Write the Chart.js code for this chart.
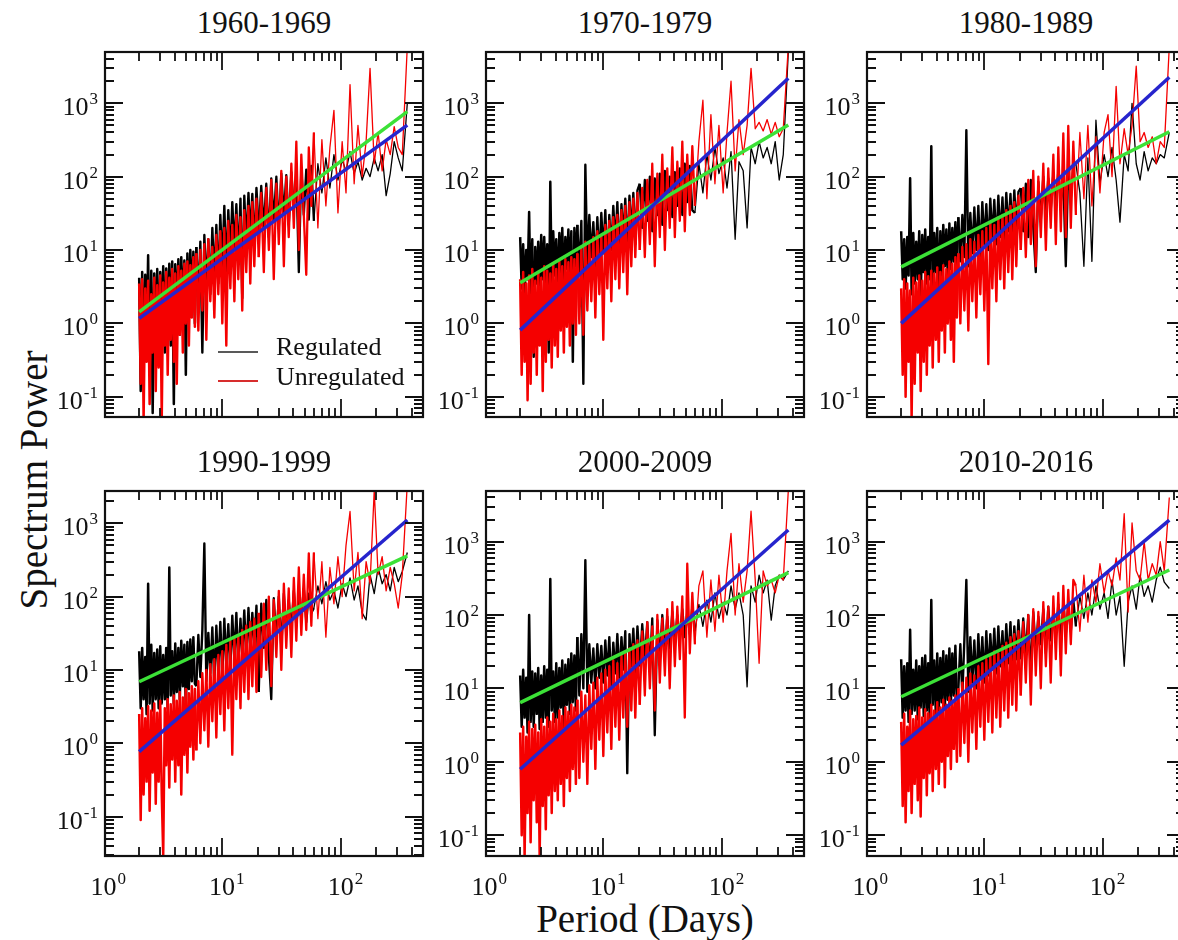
<!DOCTYPE html>
<html>
<head>
<meta charset="utf-8">
<title>Spectrum power by decade</title>
<script src="https://cdn.jsdelivr.net/npm/chart.js@4.4.1/dist/chart.umd.min.js"></script>
<style>
  body { margin: 0; width: 1178px; height: 940px; overflow: hidden; background: #fff; position: relative;
         font-family: 'Liberation Serif', 'Times New Roman', serif; color: #111; }
  canvas { position: absolute; }
  .panel-title { position: absolute; width: 318px; text-align: center; font-size: 31px; line-height: 31px; }
  #yTitle { position: absolute; left: 33px; top: 480px; transform: translate(-50%, -50%) rotate(-90deg);
            font-size: 39px; line-height: 39px; white-space: nowrap; }
  #xTitle { position: absolute; left: 645px; top: 899px; transform: translateX(-50%);
            font-size: 39px; line-height: 39px; white-space: nowrap; }
</style>
</head>
<body>
<div id="yTitle">Spectrum Power</div>
<div id="xTitle">Period (Days)</div>
<canvas id="p0"></canvas>
<canvas id="p1"></canvas>
<canvas id="p2"></canvas>
<canvas id="p3"></canvas>
<canvas id="p4"></canvas>
<canvas id="p5"></canvas>
<script>
// periods (days) shared by every spectrum
const periods = [
  2.00, 2.06, 2.12, 2.18, 2.25, 2.31, 2.38, 2.45, 2.53, 2.60, 2.68, 2.76, 2.84, 2.92, 3.01, 3.10, 3.19, 3.29, 3.38,
  3.48, 3.59, 3.69, 3.80, 3.92, 4.03, 4.15, 4.28, 4.40, 4.53, 4.67, 4.81, 4.95, 5.10, 5.25, 5.40, 5.56, 5.73, 5.90,
  6.07, 6.31, 6.56, 6.82, 7.09, 7.37, 7.66, 7.96, 8.28, 8.61, 8.95, 9.30, 9.67, 10.05, 10.45, 10.86, 11.29, 11.74,
  12.2, 12.7, 13.2, 13.7, 14.3, 14.8, 15.4, 16.0, 16.7, 17.3, 18.0, 18.7, 19.5,
  20.4, 21.4, 22.5, 23.6, 24.8, 26.0, 27.3, 28.7, 30.1, 31.6, 33.2, 34.8, 36.5, 38.4, 40.3, 42.3, 44.4, 46.6, 48.9,
  51.3, 53.9, 56.6,
  59.5, 64.3, 69.5, 75.1, 81.2, 87.8, 94.9, 103, 111, 120, 130, 140, 152, 164, 177, 192, 207, 224, 242, 262, 283,
  306, 331, 365
];

// 1960-1969
const reg1960s = [
  4.2, 0.12, 5.0, 0.35, 4.6, 0.5, 8.5, 0.2, 5.2, 0.06, 4.8, 0.6, 5.5, 0.3, 5.0, 0.9, 6.0, 0.4, 5.6, 1.0,
  6.5, 0.5, 7.0, 0.08, 6.4, 1.2, 7.5, 0.7, 8.0, 1.5, 7.2, 0.2, 9.0, 1.3, 10, 2.0, 9.5, 1.0,
  11, 2.2, 13, 0.4, 16, 3.0, 14, 2.5, 20, 4.0, 22, 3.5, 30, 6, 40, 5, 35, 8, 45, 10, 42, 7, 50, 2.2, 55, 12,
  60, 15, 58, 10, 70,
  18, 75, 20, 80, 15, 95, 25, 100, 20, 110, 30, 105, 22, 115, 35, 120, 5, 130, 30, 125, 26, 140,
  25, 150, 60, 180, 70, 200, 90, 170, 120, 220, 110, 160, 90, 130, 100, 180, 120, 200, 55, 110, 300, 180, 120, 1000
];
const unreg1960s = [
  3.5, 0.15, 4.0, 0.05, 3.0, 0.3, 3.8, 0.08, 2.5, 0.4, 4.2, 0.12, 3.3, 0.25, 4.5, 0.05, 3.6, 0.5, 5.0, 0.2,
  4.2, 0.6, 5.5, 0.3, 4.8, 0.15, 6.0, 0.7, 5.2, 0.4, 6.5, 1.0, 7.0, 0.5, 6.2, 1.2, 8.0, 0.9,
  9, 0.8, 10, 1.5, 12, 0.6, 14, 2.0, 11, 1.2, 16, 2.5, 18, 1.0, 20, 0.5, 25, 3.0, 22, 2.0, 30, 4.0, 28, 1.5,
  35, 5.0, 40, 3.5, 45, 6.0, 50,
  8, 60, 5, 70, 10, 90, 4, 80, 12, 120, 6, 100, 15, 150, 20, 300, 10, 200, 30, 4.6, 250, 40,
  400, 20, 320, 40, 250, 800, 32, 300, 60, 1800, 80, 500, 100, 300, 3000, 150, 400, 120, 320, 200, 480, 250, 200, 6000
];

// 1970-1979
const reg1970s = [
  15, 3.0, 12, 2.5, 10, 4.0, 33, 2.0, 14, 0.35, 11, 3.5, 13, 2.8, 16, 4.0, 15, 3.0, 12, 0.4,
  85, 3.5, 18, 4.5, 14, 2.5, 17, 5.0, 20, 3.0, 15, 5.5, 19, 4.0, 18, 0.3, 20, 6.0,
  22, 5, 25, 0.15, 145, 6, 30, 8, 24, 6, 28, 7, 32, 9, 35, 5, 30, 10, 40, 12, 45, 8, 42, 14, 50, 10,
  55, 15, 60, 12, 65,
  80, 20, 90, 25, 100, 18, 95, 30, 110, 22, 120, 35, 100, 28, 115, 40, 130, 30, 150, 45, 140, 35,
  32, 150, 60, 200, 90, 250, 110, 180, 70, 220, 14, 160, 120, 20, 250, 150, 300, 180, 250, 150, 300, 90, 200, 5000
];
const unreg1970s = [
  4.0, 0.2, 5.0, 0.3, 3.5, 0.09, 4.5, 0.15, 5.5, 0.4, 3.8, 0.2, 5.0, 0.5, 4.2, 0.12, 6.0, 0.3, 5.2, 0.6,
  4.8, 0.25, 6.5, 0.5, 5.5, 0.35, 7.0, 0.8, 6.0, 0.4, 7.5, 0.9, 6.8, 0.5, 8.0, 1.0, 7.5, 0.7,
  9, 1.0, 11, 0.7, 13, 1.5, 12, 2.0, 15, 1.2, 18, 2.5, 16, 0.6, 22, 3.0, 25, 2.0, 28, 4.0, 30, 3.0,
  35, 5.0, 40, 2.5, 45, 6.0, 50, 8.0, 60,
  10, 70, 8, 90, 12, 150, 6, 110, 15, 200, 10, 130, 20, 250, 15, 160, 25, 300, 18, 200, 30, 260,
  40, 300, 1100, 50, 700, 80, 500, 60, 400, 2000, 120, 600, 200, 500, 3000, 450, 550, 420, 600, 380, 550, 350, 450, 6000
];

// 1980-1989
const reg1980s = [
  18, 4.0, 14, 3.0, 15, 4.5, 95, 2.5, 17, 3.5, 13, 4.0, 18, 2.0, 16, 5.0, 19, 3.5, 15, 4.0,
  260, 3.0, 17, 5.0, 20, 2.0, 18, 4.5, 22, 6.0, 19, 4.0, 23, 5.5, 20, 7.0, 24, 6.0,
  28, 7, 30, 8, 430, 6, 32, 9, 38, 10, 40, 8, 45, 12, 42, 10, 50, 14, 48, 12, 55, 15, 52, 13, 60, 18,
  58, 16, 65, 20, 62,
  70, 18, 80, 15, 90, 20, 5, 85, 25, 100, 30, 95, 35, 110, 40, 120, 45, 100, 6, 130, 50, 140,
  150, 60, 6, 180, 7, 590, 80, 200, 100, 250, 90, 24, 200, 120, 1000, 150, 90, 220, 120, 180, 150, 200, 180, 400
];
const unreg1980s = [
  3.0, 0.2, 4.0, 0.1, 3.5, 0.3, 2.8, 0.05, 4.2, 0.15, 3.6, 0.4, 4.5, 0.12, 3.8, 0.3, 5.0, 0.2, 4.4, 0.5,
  5.2, 0.25, 4.8, 0.6, 5.8, 0.3, 5.0, 0.8, 6.2, 0.4, 5.5, 1.0, 7.0, 0.6, 6.5, 0.3, 8.0, 1.2,
  9, 1.0, 11, 1.5, 12, 0.8, 14, 2.0, 13, 1.2, 16, 2.5, 18, 1.5, 20, 0.28, 24, 3.0, 22, 2.0, 28, 4.0, 30, 3.0,
  35, 5.0, 40, 4.0, 45, 6.0, 55,
  10, 70, 8, 90, 12, 120, 6, 100, 15, 150, 10, 130, 20, 200, 12, 250, 18, 390, 15, 490, 20, 300,
  30, 400, 50, 500, 40, 350, 60, 400, 700, 100, 1700, 150, 450, 200, 500, 3200, 300, 400, 250, 350, 150, 300, 250, 6000
];

// 1990-1999
const reg1990s = [
  18, 3.0, 20, 4.0, 15, 2.5, 150, 3.5, 22, 2.8, 17, 4.0, 19, 3.0, 21, 3.5, 16, 4.0, 20, 3.0,
  250, 4.5, 18, 3.5, 23, 5.0, 20, 4.0, 25, 6.0, 22, 3.0, 24, 5.5, 26, 7.0, 28, 6.5,
  6, 30, 8, 35, 530, 7, 32, 9, 38, 6, 40, 10, 45, 8, 50, 12, 42, 10, 55, 14, 60, 12, 50, 16, 65, 15,
  70, 18, 60, 20, 75,
  5, 80, 20, 90, 15, 4, 95, 25, 100, 20, 110, 30, 90, 35, 120, 40, 100, 50, 130, 45, 110, 60,
  70, 140, 80, 160, 90, 120, 70, 150, 100, 180, 90, 140, 60, 48, 200, 110, 250, 150, 200, 120, 250, 160, 220, 400
];
const unreg1990s = [
  2.5, 0.09, 3.0, 0.2, 2.2, 0.3, 3.2, 0.12, 2.8, 0.4, 3.5, 0.15, 2.6, 0.3, 3.8, 0.2, 0.03, 3.0, 0.5, 4.0,
  0.25, 3.4, 0.6, 4.5, 0.3, 3.8, 0.5, 5.0, 0.2, 4.2, 0.7, 5.5, 0.4, 4.8, 0.9, 6.0, 0.6, 5.5,
  0.8, 7, 1.0, 9, 1.5, 10, 0.9, 12, 2.0, 14, 1.2, 16, 2.5, 18, 1.5, 22, 3.0, 25, 0.7, 28, 4.0, 30, 3.0, 35,
  5.0, 40, 4.0, 45, 6.0, 50, 5.0,
  60, 8, 80, 10, 100, 6, 90, 15, 120, 10, 150, 20, 130, 15, 180, 25, 250, 30, 200, 35, 390, 40,
  400, 50, 300, 28, 250, 80, 350, 100, 500, 1450, 120, 400, 50, 300, 150, 2800, 200, 350, 120, 250, 150, 70, 200, 3500
];

// 2000-2009
const reg2000s = [
  15, 3.0, 18, 4.0, 14, 2.5, 100, 3.5, 17, 3.0, 16, 4.5, 19, 2.8, 15, 3.5, 20, 4.0, 18, 3.0,
  310, 5.0, 17, 3.5, 22, 4.0, 19, 5.5, 24, 3.0, 21, 6.0, 25, 4.5, 30, 6.5, 28, 5.0,
  50, 8, 55, 10, 560, 9, 40, 12, 35, 10, 40, 14, 38, 12, 45, 15, 50, 10, 42, 16, 55, 14, 50, 18, 60, 0.7,
  55, 20, 65, 16, 70,
  20, 75, 25, 80, 18, 90, 2.3, 85, 25, 100, 30, 95, 35, 110, 40, 100, 45, 120, 50, 110, 55, 130,
  60, 140, 70, 160, 80, 200, 90, 150, 100, 250, 120, 200, 100, 10.5, 250, 150, 350, 200, 300, 85, 250, 350, 300, 400
];
const unreg2000s = [
  2.5, 0.1, 3.0, 0.05, 2.2, 0.2, 3.5, 0.08, 2.8, 0.3, 3.2, 0.15, 2.5, 0.05, 3.8, 0.25, 3.0, 0.12, 4.0, 0.35,
  3.5, 0.2, 4.5, 0.4, 3.8, 0.3, 5.0, 0.5, 4.2, 0.25, 5.5, 0.6, 4.8, 0.4, 6.0, 0.8, 5.5, 0.5,
  7, 0.6, 9, 1.0, 8, 0.5, 11, 1.5, 12, 0.8, 14, 2.0, 16, 1.2, 18, 2.5, 20, 1.5, 24, 3.0, 22, 2.0, 28, 4.0,
  30, 3.0, 35, 5.0, 40, 4.0, 45,
  6, 60, 8, 80, 10, 70, 5, 100, 12, 90, 15, 120, 10, 150, 20, 130, 25, 180, 4, 500, 30, 200,
  40, 250, 400, 50, 300, 60, 350, 80, 400, 1300, 100, 500, 150, 400, 2600, 300, 22, 400, 250, 300, 200, 350, 300, 5000
];

// 2010-2016
const reg2010s = [
  25, 4.0, 20, 5.0, 22, 3.5, 63, 4.5, 18, 5.0, 24, 3.8, 20, 5.5, 26, 4.2, 28, 5.0, 22, 4.0,
  160, 6.0, 24, 4.5, 30, 5.0, 26, 6.5, 32, 5.5, 28, 7.0, 35, 6.0, 30, 8.0, 38, 7.0,
  10, 40, 8, 45, 300, 9, 50, 12, 45, 10, 55, 14, 50, 12, 60, 15, 55, 18, 65, 16, 70, 20, 60, 18, 75, 22,
  80, 20, 70, 25, 85,
  25, 90, 30, 100, 15, 110, 35, 95, 40, 120, 30, 130, 45, 110, 50, 140, 40, 150, 55, 130, 60, 160,
  70, 180, 90, 200, 100, 250, 120, 200, 90, 300, 100, 180, 20, 150, 250, 120, 350, 180, 250, 150, 300, 450, 280, 230
];
const unreg2010s = [
  3.5, 0.25, 4.5, 0.15, 3.0, 0.4, 5.0, 0.2, 3.8, 0.5, 4.2, 0.3, 5.5, 0.18, 4.0, 0.6, 5.2, 0.35, 4.6, 0.7,
  6.0, 0.4, 5.0, 0.8, 6.5, 0.5, 5.5, 1.0, 7.0, 0.45, 6.0, 1.2, 7.5, 0.8, 6.8, 1.5, 8.0, 1.0,
  10, 1.2, 12, 1.8, 14, 1.0, 16, 2.5, 15, 1.5, 20, 3.0, 22, 2.0, 25, 3.5, 28, 2.5, 32, 4.0, 30, 3.0,
  38, 5.0, 42, 4.0, 50, 6.0, 55, 5.0, 60,
  8, 80, 12, 100, 6, 120, 15, 110, 10, 150, 20, 130, 12, 180, 25, 200, 15, 250, 30, 220, 40, 300,
  250, 60, 350, 80, 300, 150, 500, 200, 400, 250, 600, 300, 2400, 110, 1800, 400, 300, 1000, 300, 500, 350, 1000, 400, 4000
];

// power-law fits, evaluated at the ends of the period range
const fitPeriods = [2, 365];
const regFit1960s = [1.44, 770],  unregFit1960s = [1.17, 505];
const regFit1970s = [3.58, 505],  unregFit1970s = [0.81, 2190];
const regFit1980s = [5.9, 410],   unregFit1980s = [1.0, 2260];
const regFit1990s = [6.9, 359],   unregFit1990s = [0.77, 1110];
const regFit2000s = [6.4, 378],   unregFit2000s = [0.79, 1440];
const regFit2010s = [7.7, 411],   unregFit2010s = [1.69, 1970];

const decades = ['1960-1969', '1970-1979', '1980-1989', '1990-1999', '2000-2009', '2010-2016'];

// axis ranges and tick marks
const xRange = [1.03, 495];
const yRanges = [[0.053, 5000], [0.053, 5000], [0.053, 5000], [0.029, 2760], [0.052, 4900], [0.052, 4900]];
const xMajor = [1, 10, 100];
const xExponents = ['0', '1', '2'];
const xMinor = [2, 3, 4, 5, 6, 7, 8, 9, 20, 30, 40, 50, 60, 70, 80, 90, 200, 300, 400];
const yMajor = [0.1, 1, 10, 100, 1000];
const yExponents = ['-1', '0', '1', '2', '3'];
const yMinor = [0.03, 0.04, 0.05, 0.06, 0.07, 0.08, 0.09, 0.2, 0.3, 0.4, 0.5, 0.6, 0.7, 0.8, 0.9,
  2, 3, 4, 5, 6, 7, 8, 9, 20, 30, 40, 50, 60, 70, 80, 90, 200, 300, 400, 500, 600, 700, 800, 900,
  2000, 3000, 4000];

const legendLabels = ['Regulated', 'Unregulated'];

const regSeries = [reg1960s, reg1970s, reg1980s, reg1990s, reg2000s, reg2010s];
const unregSeries = [unreg1960s, unreg1970s, unreg1980s, unreg1990s, unreg2000s, unreg2010s];
const regFits = [regFit1960s, regFit1970s, regFit1980s, regFit1990s, regFit2000s, regFit2010s];
const unregFits = [unregFit1960s, unregFit1970s, unregFit1980s, unregFit1990s, unregFit2000s, unregFit2010s];

const BLACK = '#000', RED = 'rgb(245,0,0)', GREEN = 'rgb(60,225,55)', BLUE = 'rgb(38,36,205)';
const SERIF = '"Liberation Serif", "Times New Roman", serif';

const toPoints = (xs, ys) => xs.map((x, i) => ({ x, y: ys[i] }));

// the spectra are packed tightly at short periods, so strokes there are drawn wider
function noiseWidth(c) {
  const p = periods[c.p0DataIndex];
  if (p < 6) return 2.5;
  if (p < 20) return 2.4;
  if (p < 58) return 2.3;
  return 1.3;
}

function drawPower(ctx, exp, x, y, align) {
  ctx.font = '26px ' + SERIF;
  const wBase = ctx.measureText('10').width;
  ctx.font = '17px ' + SERIF;
  const wExp = ctx.measureText(exp).width;
  let left, base;
  if (align === 'right') {
    left = x - wBase - wExp - 1;
    base = y + 12;
  } else {
    left = x - wBase / 2;
    base = y;
  }
  ctx.textAlign = 'left';
  ctx.textBaseline = 'alphabetic';
  ctx.font = '26px ' + SERIF;
  ctx.fillText('10', left, base);
  ctx.font = '17px ' + SERIF;
  ctx.fillText(exp, left + wBase + 1, base - 11);
}

// frame, inward ticks on all four sides, tick labels and the inset legend
const frameTicks = {
  id: 'frameTicks',
  afterDatasetsDraw(chart, args, opts) {
    const { ctx, chartArea: a } = chart;
    const xs = chart.scales.x, ys = chart.scales.y;
    ctx.save();
    ctx.strokeStyle = '#111';
    ctx.lineWidth = 1.8;
    ctx.beginPath();
    xMajor.concat(xMinor).forEach(v => {
      if (v <= xs.min || v >= xs.max) return;
      const px = Math.round(xs.getPixelForValue(v));
      const len = xMajor.includes(v) ? 18 : 9;
      ctx.moveTo(px, a.top); ctx.lineTo(px, a.top + len);
      ctx.moveTo(px, a.bottom); ctx.lineTo(px, a.bottom - len);
    });
    yMajor.concat(yMinor).forEach(v => {
      if (v <= ys.min || v >= ys.max) return;
      const py = Math.round(ys.getPixelForValue(v));
      const len = yMajor.includes(v) ? 18 : 9;
      ctx.moveTo(a.left, py); ctx.lineTo(a.left + len, py);
      ctx.moveTo(a.right, py); ctx.lineTo(a.right - len, py);
    });
    ctx.stroke();
    ctx.lineWidth = 2.2;
    ctx.strokeRect(a.left, a.top, a.right - a.left, a.bottom - a.top);

    ctx.fillStyle = '#111';
    yMajor.forEach((v, i) => {
      if (v < ys.min || v > ys.max) return;
      drawPower(ctx, yExponents[i], a.left - 7, ys.getPixelForValue(v), 'right');
    });
    if (opts.xLabels) {
      xMajor.forEach((v, i) => drawPower(ctx, xExponents[i], xs.getPixelForValue(v), a.bottom + 39, 'center'));
    }
    if (opts.legend) {
      const x0 = a.left + 113, x1 = a.left + 153;
      ctx.lineWidth = 1.3;
      ctx.strokeStyle = '#222';
      ctx.beginPath(); ctx.moveTo(x0, a.top + 300); ctx.lineTo(x1, a.top + 300); ctx.stroke();
      ctx.lineWidth = 2;
      ctx.strokeStyle = 'rgb(215,45,45)';
      ctx.beginPath(); ctx.moveTo(x0, a.top + 329); ctx.lineTo(x1, a.top + 329); ctx.stroke();
      ctx.font = '26px ' + SERIF;
      ctx.textAlign = 'left';
      ctx.fillText(legendLabels[0], a.left + 171, a.top + 303);
      ctx.fillText(legendLabels[1], a.left + 171, a.top + 333);
    }
    ctx.restore();
  }
};

// canvas placement for each column / row and the padding that puts the frame in place
const cols = [{ left: 0, width: 430, pad: 105 }, { left: 430, width: 390, pad: 56 }, { left: 810, width: 390, pad: 57 }];
const rows = [{ top: 40, height: 417, pad: 12 }, { top: 457, height: 449, pad: 34 }];
const FRAME_W = 318, FRAME_H = 365;

decades.forEach((label, i) => {
  const col = cols[i % 3], row = rows[Math.floor(i / 3)];
  const canvas = document.getElementById('p' + i);
  canvas.width = col.width; canvas.height = row.height;
  canvas.style.left = col.left + 'px'; canvas.style.top = row.top + 'px';

  const title = document.createElement('div');
  title.className = 'panel-title';
  title.textContent = label;
  title.style.left = (col.left + col.pad) + 'px';
  title.style.top = (row.top + row.pad - 45) + 'px';
  document.body.appendChild(title);

  new Chart(canvas, {
    type: 'line',
    data: {
      datasets: [
        { label: 'Unregulated fit', data: toPoints(fitPeriods, unregFits[i]), borderColor: BLUE, borderWidth: 3.5 },
        { label: 'Regulated fit', data: toPoints(fitPeriods, regFits[i]), borderColor: GREEN, borderWidth: 3.5 },
        { label: 'Unregulated', data: toPoints(periods, unregSeries[i]), borderColor: RED, borderWidth: 1.3,
          segment: { borderWidth: noiseWidth } },
        { label: 'Regulated', data: toPoints(periods, regSeries[i]), borderColor: BLACK, borderWidth: 1.2,
          segment: { borderWidth: noiseWidth } }
      ]
    },
    options: {
      responsive: false,
      animation: false,
      events: [],
      layout: {
        padding: {
          left: col.pad, top: row.pad,
          right: col.width - col.pad - FRAME_W, bottom: row.height - row.pad - FRAME_H
        }
      },
      elements: {
        point: { radius: 0 },
        line: { tension: 0, borderJoinStyle: 'round', fill: false }
      },
      datasets: { line: { clip: 0 } },
      plugins: {
        legend: { display: false },
        tooltip: { enabled: false },
        frameTicks: { xLabels: i >= 3, legend: i === 0 }
      },
      scales: {
        x: { type: 'logarithmic', min: xRange[0], max: xRange[1], display: false },
        y: { type: 'logarithmic', min: yRanges[i][0], max: yRanges[i][1], display: false }
      }
    },
    plugins: [frameTicks]
  });
});
</script>
</body>
</html>
